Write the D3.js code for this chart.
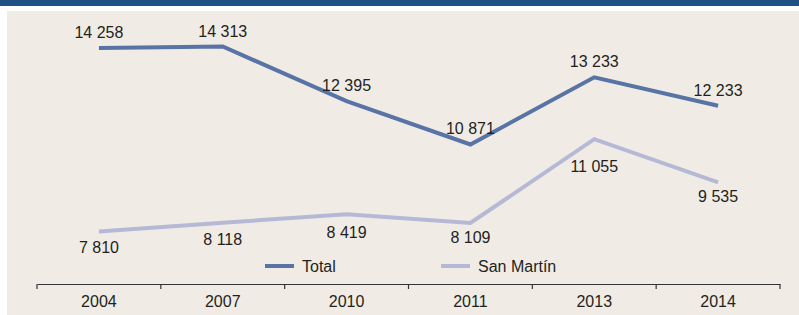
<!DOCTYPE html>
<html>
<head>
<meta charset="utf-8">
<script src="https://cdn.jsdelivr.net/npm/d3@7"></script>
<style>
  body { margin: 0; background: #fff; }
  svg text { font-family: "Liberation Sans", Arial, sans-serif; fill: #231f20; }
</style>
</head>
<body>
<svg id="chart" width="799" height="315"></svg>
<script>
// Total vs San Martín

var years = ["2004", "2007", "2010", "2011", "2013", "2014"];
var total = [14258, 14313, 12395, 10871, 13233, 12233];
var sanMartin = [7810, 8118, 8419, 8109, 11055, 9535];
var seriesNames = ["Total", "San Martín"];

// label distance under the San Martín points (layout only)
var smLabelGap = [21, 22, 24, 20, 33, 20];

var svg = d3.select("#chart");

// top band + panel
svg.append("rect").attr("x", 0).attr("y", 0).attr("width", 799).attr("height", 6).attr("fill", "#1f5185");
svg.append("rect").attr("x", 7).attr("y", 11).attr("width", 792).attr("height", 304).attr("fill", "#f0ece5");

var x = d3.scaleBand().domain(years).range([37, 780]);
var y = d3.scaleLinear().domain([6000, 15000]).range([283, 27]);

// x axis
var axis = svg.append("g")
  .attr("transform", "translate(0,284)")
  .call(d3.axisBottom(x).tickSize(0).tickPadding(12));
axis.select(".domain").attr("stroke", "#333").attr("stroke-width", 1.2);
axis.selectAll("text")
  .attr("font-size", "16px")
  .attr("font-family", "Liberation Sans, Arial, sans-serif")
  .attr("fill", "#231f20");

// ticks between categories
var bounds = years.map(function (d) { return x(d); }).concat([x.range()[1]]);
axis.selectAll(".sep")
  .data(bounds)
  .enter()
  .append("line")
  .attr("class", "sep")
  .attr("x1", function (d) { return d; })
  .attr("x2", function (d) { return d; })
  .attr("y1", 0)
  .attr("y2", 5)
  .attr("stroke", "#333")
  .attr("stroke-width", 1.2);

var cx = function (d, i) { return x(years[i]) + x.bandwidth() / 2; };

var line = d3.line()
  .x(function (d, i) { return cx(d, i); })
  .y(function (d) { return y(d); });

var fmt = function (v) { return d3.format(",")(v).replace(",", " "); };

// San Martín
svg.append("path")
  .datum(sanMartin)
  .attr("d", line)
  .attr("fill", "none")
  .attr("stroke", "#b6b9d6")
  .attr("stroke-width", 4);

svg.selectAll(".lbl-sm")
  .data(sanMartin)
  .enter()
  .append("text")
  .attr("class", "lbl-sm")
  .attr("x", cx)
  .attr("y", function (d, i) { return y(d) + smLabelGap[i]; })
  .attr("text-anchor", "middle")
  .attr("font-size", "16px")
  .text(fmt);

// Total
svg.append("path")
  .datum(total)
  .attr("d", line)
  .attr("fill", "none")
  .attr("stroke", "#5874a6")
  .attr("stroke-width", 4);

svg.selectAll(".lbl-total")
  .data(total)
  .enter()
  .append("text")
  .attr("class", "lbl-total")
  .attr("x", cx)
  .attr("y", function (d) { return y(d) - 10; })
  .attr("text-anchor", "middle")
  .attr("font-size", "16px")
  .text(fmt);

// legend
var legendX = [265, 441];
var legendColors = ["#5874a6", "#b6b9d6"];
var legend = svg.selectAll(".legend")
  .data(seriesNames)
  .enter()
  .append("g")
  .attr("class", "legend")
  .attr("transform", function (d, i) { return "translate(" + legendX[i] + ",266)"; });

legend.append("line")
  .attr("x1", 0)
  .attr("x2", 29)
  .attr("stroke", function (d, i) { return legendColors[i]; })
  .attr("stroke-width", 4);

legend.append("text")
  .attr("x", 37)
  .attr("y", 6)
  .attr("font-size", "16px")
  .text(function (d) { return d; });
</script>
</body>
</html>
